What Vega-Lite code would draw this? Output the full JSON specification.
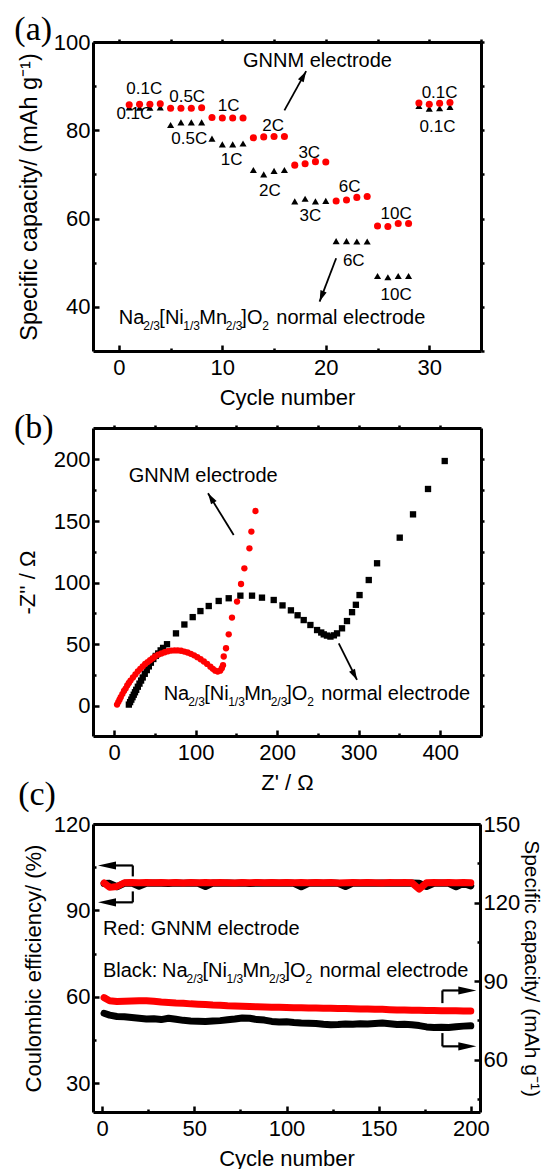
{
"$schema":"https://vega.github.io/schema/vega-lite/v6.json",
"background":"white",
"padding":{"left":13,"top":13,"right":0,"bottom":0},
"config":{
 "view":{"stroke":null},
 "font":"Liberation Sans",
 "axis":{"grid":false,"domainColor":"#000000","domainWidth":3,"tickColor":"#000000","tickWidth":2.5,"labelFont":"Liberation Sans","labelFontSize":22,"labelColor":"#000000","labelFlush":false,"labelOverlap":false,"titleFont":"Liberation Sans","titleFontSize":22,"titleFontWeight":"normal","titleColor":"#000000"},
 "text":{"font":"Liberation Sans","fill":"#000000"}
},
"datasets":{
 "rate":[
  {"cycle":1,"cap":85.2,"e":"N"},{"cycle":2,"cap":85.1,"e":"N"},{"cycle":3,"cap":85.1,"e":"N"},{"cycle":4,"cap":85.2,"e":"N"},
  {"cycle":5,"cap":81.2,"e":"N"},{"cycle":6,"cap":81.8,"e":"N"},{"cycle":7,"cap":81.8,"e":"N"},{"cycle":8,"cap":81.8,"e":"N"},
  {"cycle":9,"cap":78.1,"e":"N"},{"cycle":10,"cap":76.8,"e":"N"},{"cycle":11,"cap":76.8,"e":"N"},{"cycle":12,"cap":77.0,"e":"N"},
  {"cycle":13,"cap":71.0,"e":"N"},{"cycle":14,"cap":70.0,"e":"N"},{"cycle":15,"cap":70.8,"e":"N"},{"cycle":16,"cap":71.0,"e":"N"},
  {"cycle":17,"cap":63.9,"e":"N"},{"cycle":18,"cap":64.5,"e":"N"},{"cycle":19,"cap":63.9,"e":"N"},{"cycle":20,"cap":64.0,"e":"N"},
  {"cycle":21,"cap":54.9,"e":"N"},{"cycle":22,"cap":54.9,"e":"N"},{"cycle":23,"cap":54.8,"e":"N"},{"cycle":24,"cap":54.8,"e":"N"},
  {"cycle":25,"cap":47.0,"e":"N"},{"cycle":26,"cap":46.7,"e":"N"},{"cycle":27,"cap":47.0,"e":"N"},{"cycle":28,"cap":47.0,"e":"N"},
  {"cycle":29,"cap":85.5,"e":"N"},{"cycle":30,"cap":84.9,"e":"N"},{"cycle":31,"cap":85.0,"e":"N"},{"cycle":32,"cap":85.3,"e":"N"},
  {"cycle":1,"cap":85.8,"e":"G"},{"cycle":2,"cap":85.9,"e":"G"},{"cycle":3,"cap":85.9,"e":"G"},{"cycle":4,"cap":86.0,"e":"G"},
  {"cycle":5,"cap":85.0,"e":"G"},{"cycle":6,"cap":85.0,"e":"G"},{"cycle":7,"cap":85.0,"e":"G"},{"cycle":8,"cap":85.1,"e":"G"},
  {"cycle":9,"cap":82.9,"e":"G"},{"cycle":10,"cap":82.8,"e":"G"},{"cycle":11,"cap":82.8,"e":"G"},{"cycle":12,"cap":82.8,"e":"G"},
  {"cycle":13,"cap":78.3,"e":"G"},{"cycle":14,"cap":78.5,"e":"G"},{"cycle":15,"cap":78.6,"e":"G"},{"cycle":16,"cap":78.6,"e":"G"},
  {"cycle":17,"cap":72.1,"e":"G"},{"cycle":18,"cap":72.4,"e":"G"},{"cycle":19,"cap":72.9,"e":"G"},{"cycle":20,"cap":72.8,"e":"G"},
  {"cycle":21,"cap":64.0,"e":"G"},{"cycle":22,"cap":64.2,"e":"G"},{"cycle":23,"cap":64.8,"e":"G"},{"cycle":24,"cap":65.0,"e":"G"},
  {"cycle":25,"cap":58.3,"e":"G"},{"cycle":26,"cap":58.2,"e":"G"},{"cycle":27,"cap":58.9,"e":"G"},{"cycle":28,"cap":58.9,"e":"G"},
  {"cycle":29,"cap":86.2,"e":"G"},{"cycle":30,"cap":85.9,"e":"G"},{"cycle":31,"cap":86.1,"e":"G"},{"cycle":32,"cap":86.3,"e":"G"}
 ],
 "labA":[
  {"x":2.45,"y":88.3,"t":"0.1C"},{"x":1.5,"y":82.5,"t":"0.1C"},
  {"x":6.6,"y":86.4,"t":"0.5C"},{"x":6.8,"y":76.9,"t":"0.5C"},
  {"x":10.6,"y":84.3,"t":"1C"},{"x":10.9,"y":72.1,"t":"1C"},
  {"x":14.9,"y":79.9,"t":"2C"},{"x":14.6,"y":65.2,"t":"2C"},
  {"x":18.4,"y":73.8,"t":"3C"},{"x":18.5,"y":59.4,"t":"3C"},
  {"x":22.3,"y":66.1,"t":"6C"},{"x":22.7,"y":49.3,"t":"6C"},
  {"x":26.8,"y":60.0,"t":"10C"},{"x":26.8,"y":41.6,"t":"10C"},
  {"x":31.0,"y":87.4,"t":"0.1C"},{"x":30.8,"y":79.5,"t":"0.1C"}
 ],
 "noteA":[{"x":12,"y":94.4,"t":"GNNM electrode"}],
 "panA":[{"x":-10.1,"y":100.4,"t":"(a)"}],
 "arrA":[{"id":"g","x":16,"y":84.5,"x2":18.1,"y2":93.4},{"id":"n","x":21,"y":51,"x2":19.4,"y2":41.2}],
 "formA":[{"x":0,"y":36.1}],
 "eis":[
  {"zr":18,"zi":1,"e":"N"},{"zr":19.5,"zi":3,"e":"N"},{"zr":21,"zi":5,"e":"N"},{"zr":22.5,"zi":7,"e":"N"},{"zr":24,"zi":9,"e":"N"},{"zr":25.5,"zi":11,"e":"N"},{"zr":27,"zi":13,"e":"N"},{"zr":29,"zi":15.5,"e":"N"},{"zr":31,"zi":18,"e":"N"},{"zr":33,"zi":20.5,"e":"N"},{"zr":35,"zi":23,"e":"N"},{"zr":37.5,"zi":26,"e":"N"},{"zr":40,"zi":29,"e":"N"},{"zr":42.5,"zi":32,"e":"N"},{"zr":45,"zi":35,"e":"N"},{"zr":48,"zi":38,"e":"N"},{"zr":51,"zi":40.5,"e":"N"},{"zr":54,"zi":42.5,"e":"N"},{"zr":57,"zi":45,"e":"N"},{"zr":60,"zi":47,"e":"N"},{"zr":64.8,"zi":50,"e":"N"},{"zr":75.8,"zi":58.8,"e":"N"},{"zr":86.1,"zi":66,"e":"N"},{"zr":96.3,"zi":72,"e":"N"},{"zr":105.8,"zi":76.9,"e":"N"},{"zr":116,"zi":81,"e":"N"},{"zr":128.2,"zi":85.1,"e":"N"},{"zr":140.5,"zi":87.3,"e":"N"},{"zr":154.8,"zi":89.4,"e":"N"},{"zr":169.1,"zi":89.4,"e":"N"},{"zr":181.3,"zi":87.8,"e":"N"},{"zr":195.7,"zi":85.9,"e":"N"},{"zr":206.5,"zi":81.5,"e":"N"},{"zr":216.8,"zi":77.5,"e":"N"},{"zr":225,"zi":73.5,"e":"N"},{"zr":232.5,"zi":69.6,"e":"N"},{"zr":240.7,"zi":65.6,"e":"N"},{"zr":248.9,"zi":61.5,"e":"N"},{"zr":254,"zi":59.5,"e":"N"},{"zr":257.1,"zi":58,"e":"N"},{"zr":261,"zi":57,"e":"N"},{"zr":265.3,"zi":56.2,"e":"N"},{"zr":269.5,"zi":57.2,"e":"N"},{"zr":273.4,"zi":58.8,"e":"N"},{"zr":279.5,"zi":62.9,"e":"N"},{"zr":285.6,"zi":68.8,"e":"N"},{"zr":291.8,"zi":76,"e":"N"},{"zr":296.5,"zi":82,"e":"N"},{"zr":301,"zi":89.9,"e":"N"},{"zr":312.3,"zi":102.1,"e":"N"},{"zr":322.5,"zi":115.7,"e":"N"},{"zr":350.3,"zi":136.5,"e":"N"},{"zr":366.6,"zi":155.4,"e":"N"},{"zr":385,"zi":176,"e":"N"},{"zr":405.5,"zi":198.7,"e":"N"},
  {"zr":3.5,"zi":1,"e":"G"},{"zr":5,"zi":3,"e":"G"},{"zr":6.5,"zi":5,"e":"G"},{"zr":8,"zi":7,"e":"G"},{"zr":10,"zi":9.5,"e":"G"},{"zr":12,"zi":12,"e":"G"},{"zr":14,"zi":14,"e":"G"},{"zr":16,"zi":16.5,"e":"G"},{"zr":18,"zi":18.5,"e":"G"},{"zr":20,"zi":20.5,"e":"G"},{"zr":23,"zi":23,"e":"G"},{"zr":26,"zi":25.5,"e":"G"},{"zr":29,"zi":28,"e":"G"},{"zr":32,"zi":30,"e":"G"},{"zr":35,"zi":32,"e":"G"},{"zr":38,"zi":34,"e":"G"},{"zr":41,"zi":35.5,"e":"G"},{"zr":44,"zi":37,"e":"G"},{"zr":47,"zi":38.5,"e":"G"},{"zr":50,"zi":40,"e":"G"},{"zr":54,"zi":41.5,"e":"G"},{"zr":58,"zi":42.5,"e":"G"},{"zr":62,"zi":43.5,"e":"G"},{"zr":66,"zi":44.3,"e":"G"},{"zr":70,"zi":44.8,"e":"G"},{"zr":74,"zi":45,"e":"G"},{"zr":78,"zi":45,"e":"G"},{"zr":82,"zi":44.7,"e":"G"},{"zr":86,"zi":44,"e":"G"},{"zr":90,"zi":43.3,"e":"G"},{"zr":94,"zi":42.2,"e":"G"},{"zr":98,"zi":41,"e":"G"},{"zr":102,"zi":39.5,"e":"G"},{"zr":106,"zi":37.8,"e":"G"},{"zr":110,"zi":36,"e":"G"},{"zr":114,"zi":34,"e":"G"},{"zr":118,"zi":31.8,"e":"G"},{"zr":121,"zi":30,"e":"G"},{"zr":124,"zi":28.5,"e":"G"},{"zr":127,"zi":27.8,"e":"G"},{"zr":130,"zi":28.5,"e":"G"},{"zr":132,"zi":30.5,"e":"G"},{"zr":133.5,"zi":33,"e":"G"},{"zr":134.4,"zi":40,"e":"G"},{"zr":137.2,"zi":46.7,"e":"G"},{"zr":140.5,"zi":58,"e":"G"},{"zr":144.5,"zi":71.6,"e":"G"},{"zr":150.7,"zi":84.6,"e":"G"},{"zr":155.6,"zi":98.9,"e":"G"},{"zr":159.7,"zi":111.6,"e":"G"},{"zr":165.9,"zi":127.8,"e":"G"},{"zr":168.3,"zi":141.4,"e":"G"},{"zr":173.3,"zi":158.1,"e":"G"}
 ],
 "noteB":[{"x":17.8,"y":182,"t":"GNNM electrode"}],
 "panB":[{"x":-123,"y":217,"t":"(b)"}],
 "arrB":[{"id":"g","x":146.6,"y":138.6,"x2":115.1,"y2":172.5},{"id":"n","x":275.5,"y":50.7,"x2":297.9,"y2":21}],
 "formB":[{"x":60.7,"y":4.7}],
 "ce":[
  {"c":1,"v":99.3,"e":"N"},{"c":4,"v":99.4,"e":"N"},{"c":8,"v":98.2,"e":"N"},{"c":12,"v":99.4,"e":"N"},{"c":16,"v":99.5,"e":"N"},{"c":20,"v":98.4,"e":"N"},{"c":24,"v":99.4,"e":"N"},{"c":28,"v":99.5,"e":"N"},{"c":32,"v":99.4,"e":"N"},{"c":36,"v":99.3,"e":"N"},{"c":40,"v":99.5,"e":"N"},{"c":44,"v":99.4,"e":"N"},{"c":48,"v":99.5,"e":"N"},{"c":52,"v":99.4,"e":"N"},{"c":56,"v":98.3,"e":"N"},{"c":60,"v":99.5,"e":"N"},{"c":64,"v":99.4,"e":"N"},{"c":68,"v":99.5,"e":"N"},{"c":72,"v":99.4,"e":"N"},{"c":76,"v":99.5,"e":"N"},{"c":80,"v":99.3,"e":"N"},{"c":84,"v":99.5,"e":"N"},{"c":88,"v":99.4,"e":"N"},{"c":92,"v":99.5,"e":"N"},{"c":96,"v":99.4,"e":"N"},{"c":100,"v":99.5,"e":"N"},{"c":104,"v":99.4,"e":"N"},{"c":108,"v":98.2,"e":"N"},{"c":112,"v":99.4,"e":"N"},{"c":116,"v":99.5,"e":"N"},{"c":120,"v":99.4,"e":"N"},{"c":124,"v":99.5,"e":"N"},{"c":128,"v":99.4,"e":"N"},{"c":132,"v":98.3,"e":"N"},{"c":136,"v":99.5,"e":"N"},{"c":140,"v":99.4,"e":"N"},{"c":144,"v":99.5,"e":"N"},{"c":148,"v":99.4,"e":"N"},{"c":152,"v":99.5,"e":"N"},{"c":156,"v":99.4,"e":"N"},{"c":160,"v":99.5,"e":"N"},{"c":164,"v":99.4,"e":"N"},{"c":168,"v":99.5,"e":"N"},{"c":172,"v":99.4,"e":"N"},{"c":176,"v":98.3,"e":"N"},{"c":180,"v":99.4,"e":"N"},{"c":184,"v":99.5,"e":"N"},{"c":188,"v":99.4,"e":"N"},{"c":192,"v":98.2,"e":"N"},{"c":196,"v":99.4,"e":"N"},{"c":200,"v":98.5,"e":"N"},
  {"c":1,"v":99.5,"e":"G"},{"c":4,"v":98.0,"e":"G"},{"c":8,"v":98.3,"e":"G"},{"c":12,"v":99.6,"e":"G"},{"c":16,"v":99.7,"e":"G"},{"c":20,"v":99.6,"e":"G"},{"c":24,"v":99.7,"e":"G"},{"c":28,"v":99.6,"e":"G"},{"c":32,"v":99.7,"e":"G"},{"c":36,"v":99.6,"e":"G"},{"c":40,"v":99.7,"e":"G"},{"c":44,"v":99.5,"e":"G"},{"c":48,"v":99.7,"e":"G"},{"c":52,"v":99.6,"e":"G"},{"c":56,"v":99.7,"e":"G"},{"c":60,"v":99.6,"e":"G"},{"c":64,"v":99.7,"e":"G"},{"c":68,"v":99.6,"e":"G"},{"c":72,"v":99.5,"e":"G"},{"c":76,"v":99.7,"e":"G"},{"c":80,"v":99.6,"e":"G"},{"c":84,"v":99.7,"e":"G"},{"c":88,"v":99.6,"e":"G"},{"c":92,"v":99.7,"e":"G"},{"c":96,"v":99.6,"e":"G"},{"c":100,"v":99.7,"e":"G"},{"c":104,"v":99.6,"e":"G"},{"c":108,"v":99.7,"e":"G"},{"c":112,"v":99.6,"e":"G"},{"c":116,"v":99.7,"e":"G"},{"c":120,"v":99.6,"e":"G"},{"c":124,"v":99.7,"e":"G"},{"c":128,"v":99.5,"e":"G"},{"c":132,"v":99.6,"e":"G"},{"c":136,"v":99.7,"e":"G"},{"c":140,"v":99.6,"e":"G"},{"c":144,"v":99.7,"e":"G"},{"c":148,"v":99.6,"e":"G"},{"c":152,"v":99.5,"e":"G"},{"c":156,"v":99.7,"e":"G"},{"c":160,"v":99.6,"e":"G"},{"c":164,"v":99.7,"e":"G"},{"c":168,"v":99.6,"e":"G"},{"c":172,"v":97.4,"e":"G"},{"c":176,"v":99.6,"e":"G"},{"c":180,"v":99.7,"e":"G"},{"c":184,"v":99.6,"e":"G"},{"c":188,"v":99.7,"e":"G"},{"c":192,"v":99.6,"e":"G"},{"c":196,"v":99.7,"e":"G"},{"c":200,"v":99.6,"e":"G"}
 ],
 "capc":[
  {"c":1,"v":77.7,"e":"N"},{"c":4,"v":77.0,"e":"N"},{"c":8,"v":76.5,"e":"N"},{"c":12,"v":76.4,"e":"N"},{"c":16,"v":76.1,"e":"N"},{"c":20,"v":75.8,"e":"N"},{"c":24,"v":75.5,"e":"N"},{"c":28,"v":75.6,"e":"N"},{"c":32,"v":75.3,"e":"N"},{"c":36,"v":75.8,"e":"N"},{"c":40,"v":75.4,"e":"N"},{"c":44,"v":75.0,"e":"N"},{"c":48,"v":74.8,"e":"N"},{"c":52,"v":74.7,"e":"N"},{"c":56,"v":74.6,"e":"N"},{"c":60,"v":74.8,"e":"N"},{"c":64,"v":74.9,"e":"N"},{"c":68,"v":75.2,"e":"N"},{"c":72,"v":75.5,"e":"N"},{"c":76,"v":75.9,"e":"N"},{"c":80,"v":75.8,"e":"N"},{"c":84,"v":75.3,"e":"N"},{"c":88,"v":75.1,"e":"N"},{"c":92,"v":74.6,"e":"N"},{"c":96,"v":74.4,"e":"N"},{"c":100,"v":74.5,"e":"N"},{"c":104,"v":74.2,"e":"N"},{"c":108,"v":74.0,"e":"N"},{"c":112,"v":73.9,"e":"N"},{"c":116,"v":73.8,"e":"N"},{"c":120,"v":73.5,"e":"N"},{"c":124,"v":73.3,"e":"N"},{"c":128,"v":73.4,"e":"N"},{"c":132,"v":73.6,"e":"N"},{"c":136,"v":73.5,"e":"N"},{"c":140,"v":73.7,"e":"N"},{"c":144,"v":73.6,"e":"N"},{"c":148,"v":73.8,"e":"N"},{"c":152,"v":74.0,"e":"N"},{"c":156,"v":73.7,"e":"N"},{"c":160,"v":73.4,"e":"N"},{"c":164,"v":73.5,"e":"N"},{"c":168,"v":73.3,"e":"N"},{"c":172,"v":73.0,"e":"N"},{"c":176,"v":72.5,"e":"N"},{"c":180,"v":72.3,"e":"N"},{"c":184,"v":72.4,"e":"N"},{"c":188,"v":72.3,"e":"N"},{"c":192,"v":72.6,"e":"N"},{"c":196,"v":72.8,"e":"N"},{"c":200,"v":72.9,"e":"N"},
  {"c":1,"v":83.7,"e":"G"},{"c":4,"v":82.5,"e":"G"},{"c":8,"v":82.2,"e":"G"},{"c":12,"v":82.3,"e":"G"},{"c":16,"v":82.4,"e":"G"},{"c":20,"v":82.5,"e":"G"},{"c":24,"v":82.5,"e":"G"},{"c":28,"v":82.3,"e":"G"},{"c":32,"v":82.0,"e":"G"},{"c":36,"v":81.8,"e":"G"},{"c":40,"v":81.6,"e":"G"},{"c":44,"v":81.5,"e":"G"},{"c":48,"v":81.3,"e":"G"},{"c":52,"v":81.2,"e":"G"},{"c":56,"v":81.1,"e":"G"},{"c":60,"v":80.9,"e":"G"},{"c":64,"v":80.8,"e":"G"},{"c":68,"v":80.6,"e":"G"},{"c":72,"v":80.5,"e":"G"},{"c":76,"v":80.4,"e":"G"},{"c":80,"v":80.3,"e":"G"},{"c":84,"v":80.2,"e":"G"},{"c":88,"v":80.1,"e":"G"},{"c":92,"v":80.0,"e":"G"},{"c":96,"v":80.0,"e":"G"},{"c":100,"v":79.9,"e":"G"},{"c":104,"v":79.8,"e":"G"},{"c":108,"v":79.8,"e":"G"},{"c":112,"v":79.7,"e":"G"},{"c":116,"v":79.7,"e":"G"},{"c":120,"v":79.6,"e":"G"},{"c":124,"v":79.6,"e":"G"},{"c":128,"v":79.5,"e":"G"},{"c":132,"v":79.5,"e":"G"},{"c":136,"v":79.4,"e":"G"},{"c":140,"v":79.3,"e":"G"},{"c":144,"v":79.3,"e":"G"},{"c":148,"v":79.2,"e":"G"},{"c":152,"v":79.2,"e":"G"},{"c":156,"v":79.1,"e":"G"},{"c":160,"v":79.0,"e":"G"},{"c":164,"v":79.0,"e":"G"},{"c":168,"v":78.9,"e":"G"},{"c":172,"v":78.9,"e":"G"},{"c":176,"v":78.8,"e":"G"},{"c":180,"v":78.8,"e":"G"},{"c":184,"v":78.7,"e":"G"},{"c":188,"v":78.7,"e":"G"},{"c":192,"v":78.7,"e":"G"},{"c":196,"v":78.6,"e":"G"},{"c":200,"v":78.6,"e":"G"}
 ],
 "noteC":[{"x":0.4,"y":81.5,"t":"Red: GNNM electrode"}],
 "panC":[{"x":-45.6,"y":126.6,"t":"(c)"}],
 "brC":[
  {"x":2,"y":105.6,"x2":16.6,"y2":105.6},{"x":16.6,"y":105.6,"x2":16.6,"y2":101.8},
  {"x":2,"y":92.8,"x2":16.6,"y2":92.8},{"x":16.6,"y":92.8,"x2":16.6,"y2":96.6},
  {"x":184.6,"y":62.2,"x2":198,"y2":62.2},{"x":184.6,"y":62.2,"x2":184.6,"y2":57.8},
  {"x":184.6,"y":42.8,"x2":198,"y2":42.8},{"x":184.6,"y":42.8,"x2":184.6,"y2":47.4}
 ],
 "hdC":[{"x":-2.3,"y":105.6,"d":"L"},{"x":-2.3,"y":92.8,"d":"L"},{"x":203,"y":62.2,"d":"R"},{"x":203,"y":42.8,"d":"R"}],
 "formC":[{"x":0.4,"y":66.8}]
},
"bounds":"flush",
"spacing":77,
"resolve":{"scale":{"shape":"independent","color":"independent"}},
"vconcat":[
 {
  "width":388,"height":309,
  "resolve":{"axis":{"x":"independent","y":"independent"}},
  "layer":[
   {"data":{"name":"rate"},"mark":{"type":"point","filled":true,"size":50,"opacity":1},
    "encoding":{
     "x":{"field":"cycle","type":"quantitative","scale":{"domain":[-2.5,35],"nice":false,"zero":false},
      "axis":{"title":"Cycle number","values":[0,5,10,15,20,25,30],"labelExpr":"datum.value % 10 === 0 ? datum.label : ''","tickSize":{"condition":{"test":"datum.value % 10 !== 0","value":-3},"value":-6},"labelPadding":12,"titlePadding":6}},
     "y":{"field":"cap","type":"quantitative","scale":{"domain":[30,100],"nice":false,"zero":false},
      "axis":{"title":"Specific capacity/ (mAh g⁻¹)","titleFontSize":23.5,"values":[40,50,60,70,80,90,100],"labelExpr":"datum.value % 20 === 0 ? datum.label : ''","tickSize":{"condition":{"test":"datum.value % 20 !== 0","value":-3},"value":-6},"labelPadding":9,"titlePadding":12}},
     "color":{"field":"e","type":"nominal","scale":{"domain":["G","N"],"range":["#ff0000","#000000"]},"legend":null},
     "shape":{"field":"e","type":"nominal","scale":{"domain":["G","N"],"range":["circle","triangle-up"]},"legend":null}}},
   {"data":{"name":"rate"},"mark":{"type":"point","opacity":0},
    "encoding":{
     "x":{"field":"cycle","type":"quantitative","scale":{"domain":[-2.5,35],"nice":false,"zero":false},"axis":{"orient":"top","title":null,"labels":false,"values":[0,5,10,15,20,25,30,35],"tickSize":3}},
     "y":{"field":"cap","type":"quantitative","scale":{"domain":[30,100],"nice":false,"zero":false},"axis":{"orient":"right","title":null,"labels":false,"values":[30,40,50,60,70,80,90,100],"tickSize":3}}}},
   {"encoding":{
     "x":{"field":"x","type":"quantitative","scale":{"domain":[-2.5,35],"nice":false,"zero":false},"axis":null},
     "y":{"field":"y","type":"quantitative","scale":{"domain":[30,100],"nice":false,"zero":false},"axis":null}},
    "layer":[
     {"data":{"name":"labA"},"mark":{"type":"text","fontSize":17,"align":"center","baseline":"alphabetic"},"encoding":{"text":{"field":"t"}}},
     {"data":{"name":"noteA"},"mark":{"type":"text","fontSize":20,"align":"left","baseline":"alphabetic"},"encoding":{"text":{"field":"t"}}},
     {"data":{"name":"panA"},"mark":{"type":"text","font":"Liberation Serif","fontSize":34,"align":"left","baseline":"alphabetic"},"encoding":{"text":{"field":"t"}}},
     {"data":{"name":"arrA"},"mark":{"type":"rule","strokeWidth":1.8,"color":"#000000"},"encoding":{"x2":{"field":"x2"},"y2":{"field":"y2"}}},
     {"data":{"name":"arrA"},"transform":[{"filter":"datum.id === 'g'"}],"mark":{"type":"point","shape":"M0,0L0.6,2L-0.6,2Z","size":121,"angle":29,"filled":true,"color":"#000000","opacity":1},"encoding":{"x":{"field":"x2","type":"quantitative"},"y":{"field":"y2","type":"quantitative"}}},
     {"data":{"name":"arrA"},"transform":[{"filter":"datum.id === 'n'"}],"mark":{"type":"point","shape":"M0,0L0.6,2L-0.6,2Z","size":121,"angle":201,"filled":true,"color":"#000000","opacity":1},"encoding":{"x":{"field":"x2","type":"quantitative"},"y":{"field":"y2","type":"quantitative"}}},
     {"data":{"name":"formA"},"layer":[
      {"mark":{"type":"text","text":"Na","align":"left","baseline":"alphabetic","fontSize":20}},
      {"mark":{"type":"text","text":"2/3","align":"left","baseline":"alphabetic","fontSize":12,"dx":24.5,"dy":6}},
      {"mark":{"type":"text","text":"[Ni","align":"left","baseline":"alphabetic","fontSize":20,"dx":40.5}},
      {"mark":{"type":"text","text":"1/3","align":"left","baseline":"alphabetic","fontSize":12,"dx":64.5,"dy":6}},
      {"mark":{"type":"text","text":"Mn","align":"left","baseline":"alphabetic","fontSize":20,"dx":80.5}},
      {"mark":{"type":"text","text":"2/3","align":"left","baseline":"alphabetic","fontSize":12,"dx":107,"dy":6}},
      {"mark":{"type":"text","text":"]O","align":"left","baseline":"alphabetic","fontSize":20,"dx":122.5}},
      {"mark":{"type":"text","text":"2","align":"left","baseline":"alphabetic","fontSize":12,"dx":143.5,"dy":6}},
      {"mark":{"type":"text","text":"normal electrode","align":"left","baseline":"alphabetic","fontSize":20,"dx":157.5}}
     ]}
    ]}
  ]
 },
 {
  "bounds":"flush",
  "spacing":88,
  "vconcat":[
   {
    "width":388,"height":308,
    "resolve":{"axis":{"x":"independent","y":"independent"}},
    "layer":[
     {"data":{"name":"eis"},"mark":{"type":"point","filled":true,"size":40,"opacity":1},
      "encoding":{
       "x":{"field":"zr","type":"quantitative","scale":{"domain":[-26,450],"nice":false,"zero":false},
        "axis":{"title":"Z' / Ω","values":[0,50,100,150,200,250,300,350,400],"labelExpr":"datum.value % 100 === 0 ? datum.label : ''","tickSize":{"condition":{"test":"datum.value % 100 !== 0","value":-3},"value":-6},"labelPadding":12,"titlePadding":6}},
       "y":{"field":"zi","type":"quantitative","scale":{"domain":[-24.5,225.5],"nice":false,"zero":false},
        "axis":{"title":"-Z'' / Ω","values":[0,25,50,75,100,125,150,175,200],"labelExpr":"datum.value % 50 === 0 ? datum.label : ''","tickSize":{"condition":{"test":"datum.value % 50 !== 0","value":-3},"value":-6},"labelPadding":9,"titlePadding":14}},
       "color":{"field":"e","type":"nominal","scale":{"domain":["G","N"],"range":["#ff0000","#000000"]},"legend":null},
       "shape":{"field":"e","type":"nominal","scale":{"domain":["G","N"],"range":["circle","square"]},"legend":null}}},
     {"data":{"name":"eis"},"mark":{"type":"point","opacity":0},
      "encoding":{
       "x":{"field":"zr","type":"quantitative","scale":{"domain":[-26,450],"nice":false,"zero":false},"axis":{"orient":"top","title":null,"labels":false,"values":[0,50,100,150,200,250,300,350,400],"tickSize":3}},
       "y":{"field":"zi","type":"quantitative","scale":{"domain":[-24.5,225.5],"nice":false,"zero":false},"axis":{"orient":"right","title":null,"labels":false,"values":[0,25,50,75,100,125,150,175,200],"tickSize":3}}}},
     {"encoding":{
       "x":{"field":"x","type":"quantitative","scale":{"domain":[-26,450],"nice":false,"zero":false},"axis":null},
       "y":{"field":"y","type":"quantitative","scale":{"domain":[-24.5,225.5],"nice":false,"zero":false},"axis":null}},
      "layer":[
       {"data":{"name":"noteB"},"mark":{"type":"text","fontSize":20,"align":"left","baseline":"alphabetic"},"encoding":{"text":{"field":"t"}}},
       {"data":{"name":"panB"},"mark":{"type":"text","font":"Liberation Serif","fontSize":34,"align":"left","baseline":"alphabetic"},"encoding":{"text":{"field":"t"}}},
       {"data":{"name":"arrB"},"mark":{"type":"rule","strokeWidth":1.8,"color":"#000000"},"encoding":{"x2":{"field":"x2"},"y2":{"field":"y2"}}},
       {"data":{"name":"arrB"},"transform":[{"filter":"datum.id === 'g'"}],"mark":{"type":"point","shape":"M0,0L0.6,2L-0.6,2Z","size":121,"angle":328,"filled":true,"color":"#000000","opacity":1},"encoding":{"x":{"field":"x2","type":"quantitative"},"y":{"field":"y2","type":"quantitative"}}},
       {"data":{"name":"arrB"},"transform":[{"filter":"datum.id === 'n'"}],"mark":{"type":"point","shape":"M0,0L0.6,2L-0.6,2Z","size":121,"angle":153,"filled":true,"color":"#000000","opacity":1},"encoding":{"x":{"field":"x2","type":"quantitative"},"y":{"field":"y2","type":"quantitative"}}},
       {"data":{"name":"formB"},"layer":[
        {"mark":{"type":"text","text":"Na","align":"left","baseline":"alphabetic","fontSize":20}},
        {"mark":{"type":"text","text":"2/3","align":"left","baseline":"alphabetic","fontSize":12,"dx":24.5,"dy":6}},
        {"mark":{"type":"text","text":"[Ni","align":"left","baseline":"alphabetic","fontSize":20,"dx":40.5}},
        {"mark":{"type":"text","text":"1/3","align":"left","baseline":"alphabetic","fontSize":12,"dx":64.5,"dy":6}},
        {"mark":{"type":"text","text":"Mn","align":"left","baseline":"alphabetic","fontSize":20,"dx":80.5}},
        {"mark":{"type":"text","text":"2/3","align":"left","baseline":"alphabetic","fontSize":12,"dx":107,"dy":6}},
        {"mark":{"type":"text","text":"]O","align":"left","baseline":"alphabetic","fontSize":20,"dx":122.5}},
        {"mark":{"type":"text","text":"2","align":"left","baseline":"alphabetic","fontSize":12,"dx":143.5,"dy":6}},
        {"mark":{"type":"text","text":"normal electrode","align":"left","baseline":"alphabetic","fontSize":20,"dx":157.5}}
       ]}
      ]}
    ]
   },
   {
    "width":387,"height":288,
    "resolve":{"scale":{"y":"independent"},"axis":{"x":"independent","y":"independent"}},
    "layer":[
     {"data":{"name":"ce"},"transform":[{"filter":"datum.e === 'N'"}],"mark":{"type":"line","strokeWidth":7,"color":"#000000","strokeCap":"round","strokeJoin":"round"},
      "encoding":{
       "x":{"field":"c","type":"quantitative","scale":{"domain":[-5,205],"nice":false,"zero":false},
        "axis":{"title":"Cycle number","values":[0,25,50,75,100,125,150,175,200],"labelExpr":"datum.value % 50 === 0 ? datum.label : ''","tickSize":{"condition":{"test":"datum.value % 50 !== 0","value":-3},"value":-6},"labelPadding":12,"titlePadding":6}},
       "y":{"field":"v","type":"quantitative","scale":{"domain":[20,120],"nice":false,"zero":false},
        "axis":{"title":"Coulombic efficiency/ (%)","values":[30,45,60,75,90,105,120],"labelExpr":"datum.value % 30 === 0 ? datum.label : ''","tickSize":{"condition":{"test":"datum.value % 30 !== 0","value":-3},"value":-6},"labelPadding":9,"titlePadding":8}}}},
     {"data":{"name":"ce"},"transform":[{"filter":"datum.e === 'G'"}],"mark":{"type":"line","strokeWidth":7,"color":"#ff0000","strokeCap":"round","strokeJoin":"round"},
      "encoding":{
       "x":{"field":"c","type":"quantitative","scale":{"domain":[-5,205],"nice":false,"zero":false},"axis":null},
       "y":{"field":"v","type":"quantitative","scale":{"domain":[20,120],"nice":false,"zero":false},"axis":null}}},
     {"data":{"name":"capc"},"transform":[{"filter":"datum.e === 'N'"}],"mark":{"type":"line","strokeWidth":7,"color":"#000000","strokeCap":"round","strokeJoin":"round"},
      "encoding":{
       "x":{"field":"c","type":"quantitative","scale":{"domain":[-5,205],"nice":false,"zero":false},"axis":null},
       "y":{"field":"v","type":"quantitative","scale":{"domain":[40,150],"nice":false,"zero":false},
        "axis":{"orient":"right","title":"Specific capacity/ (mAh g⁻¹)","titleFontSize":21,"values":[45,60,75,90,105,120,135,150],"labelExpr":"datum.value % 30 === 0 ? datum.label : ''","tickSize":{"condition":{"test":"datum.value % 30 !== 0","value":-3},"value":-6},"labelPadding":9,"titlePadding":1}}}},
     {"data":{"name":"capc"},"transform":[{"filter":"datum.e === 'G'"}],"mark":{"type":"line","strokeWidth":7,"color":"#ff0000","strokeCap":"round","strokeJoin":"round"},
      "encoding":{
       "x":{"field":"c","type":"quantitative","scale":{"domain":[-5,205],"nice":false,"zero":false},"axis":null},
       "y":{"field":"v","type":"quantitative","scale":{"domain":[40,150],"nice":false,"zero":false},"axis":null}}},
     {"data":{"name":"capc"},"mark":{"type":"point","opacity":0},
      "encoding":{
       "x":{"field":"c","type":"quantitative","scale":{"domain":[-5,205],"nice":false,"zero":false},"axis":{"orient":"top","title":null,"labels":false,"ticks":false}},
       "y":{"field":"v","type":"quantitative","scale":{"domain":[40,150],"nice":false,"zero":false},"axis":null}}},
     {"encoding":{
       "x":{"field":"x","type":"quantitative","scale":{"domain":[-5,205],"nice":false,"zero":false},"axis":null},
       "y":{"field":"y","type":"quantitative","scale":{"domain":[20,120],"nice":false,"zero":false},"axis":null}},
      "layer":[
       {"data":{"name":"noteC"},"mark":{"type":"text","fontSize":20,"align":"left","baseline":"alphabetic"},"encoding":{"text":{"field":"t"}}},
       {"data":{"name":"panC"},"mark":{"type":"text","font":"Liberation Serif","fontSize":34,"align":"left","baseline":"alphabetic"},"encoding":{"text":{"field":"t"}}},
       {"data":{"name":"brC"},"mark":{"type":"rule","strokeWidth":2.2,"color":"#000000"},"encoding":{"x2":{"field":"x2"},"y2":{"field":"y2"}}},
       {"data":{"name":"hdC"},"transform":[{"filter":"datum.d === 'L'"}],"mark":{"type":"point","shape":"M0,0L0.45,2L-0.45,2Z","size":324,"angle":270,"filled":true,"color":"#000000","opacity":1}},
       {"data":{"name":"hdC"},"transform":[{"filter":"datum.d === 'R'"}],"mark":{"type":"point","shape":"M0,0L0.45,2L-0.45,2Z","size":324,"angle":90,"filled":true,"color":"#000000","opacity":1}},
       {"data":{"name":"formC"},"layer":[
        {"mark":{"type":"text","text":"Black:","align":"left","baseline":"alphabetic","fontSize":20}},
        {"mark":{"type":"text","text":"Na","align":"left","baseline":"alphabetic","fontSize":20,"dx":59}},
        {"mark":{"type":"text","text":"2/3","align":"left","baseline":"alphabetic","fontSize":12,"dx":83.5,"dy":6}},
        {"mark":{"type":"text","text":"[Ni","align":"left","baseline":"alphabetic","fontSize":20,"dx":99.5}},
        {"mark":{"type":"text","text":"1/3","align":"left","baseline":"alphabetic","fontSize":12,"dx":123.5,"dy":6}},
        {"mark":{"type":"text","text":"Mn","align":"left","baseline":"alphabetic","fontSize":20,"dx":139.5}},
        {"mark":{"type":"text","text":"2/3","align":"left","baseline":"alphabetic","fontSize":12,"dx":166,"dy":6}},
        {"mark":{"type":"text","text":"]O","align":"left","baseline":"alphabetic","fontSize":20,"dx":181.5}},
        {"mark":{"type":"text","text":"2","align":"left","baseline":"alphabetic","fontSize":12,"dx":202.5,"dy":6}},
        {"mark":{"type":"text","text":"normal electrode","align":"left","baseline":"alphabetic","fontSize":20,"dx":216.5}}
       ]}
      ]}
    ]
   }
  ]
 }
]
}
